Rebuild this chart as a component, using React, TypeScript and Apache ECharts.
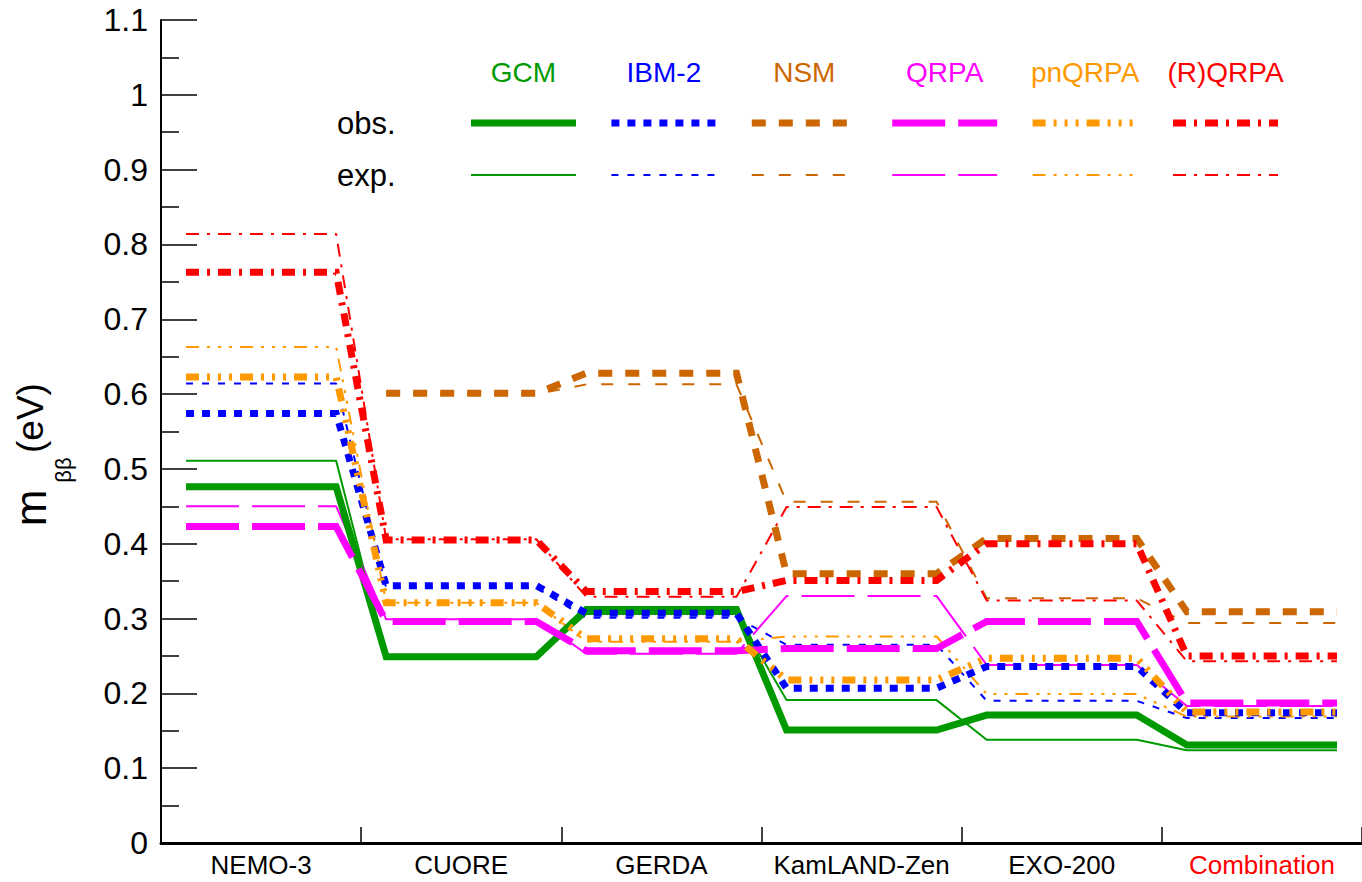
import React, { useEffect, useRef } from 'react';
import * as echarts from 'echarts';

const categories = ['NEMO-3', 'CUORE', 'GERDA', 'KamLAND-Zen', 'EXO-200', 'Combination'];

const gcmObs = [0.476, 0.249, 0.312, 0.151, 0.171, 0.131];
const gcmExp = [0.511, 0.249, 0.306, 0.191, 0.138, 0.124];
const ibmObs = [0.574, 0.344, 0.307, 0.207, 0.236, 0.174];
const ibmExp = [0.614, 0.341, 0.301, 0.265, 0.19, 0.167];
const nsmObs = [null, 0.601, 0.628, 0.36, 0.407, 0.309];
const nsmExp = [null, 0.6, 0.613, 0.456, 0.327, 0.294];
const qrpaObs = [0.423, 0.296, 0.257, 0.26, 0.296, 0.187];
const qrpaExp = [0.45, 0.299, 0.253, 0.33, 0.238, 0.183];
const pnqrpaObs = [0.623, 0.321, 0.273, 0.218, 0.247, 0.175];
const pnqrpaExp = [0.663, 0.321, 0.269, 0.276, 0.199, 0.169];
const rqrpaObs = [0.763, 0.405, 0.336, 0.351, 0.4, 0.25];
const rqrpaExp = [0.814, 0.406, 0.329, 0.449, 0.324, 0.243];

const models = ['GCM', 'IBM-2', 'NSM', 'QRPA', 'pnQRPA', '(R)QRPA'];
const colors = ['#009a00', '#0000ff', '#cc6600', '#ff00ff', '#ff9900', '#ff0000'];
const obsData = [gcmObs, ibmObs, nsmObs, qrpaObs, pnqrpaObs, rqrpaObs];
const expData = [gcmExp, ibmExp, nsmExp, qrpaExp, pnqrpaExp, rqrpaExp];
const obsDash: any[] = ['solid', [8, 8], [14, 13], [53, 13], [13, 8, 3, 8, 3, 8, 3, 8], [13, 8, 3, 8]];
const expDash: any[] = ['solid', [7, 9], [12, 15], [53, 13], [13, 8, 3, 8, 3, 8, 3, 8], [13, 8, 3, 8]];

const FLAT = 0.125;
const FONT = '"Liberation Sans", Arial, Helvetica, sans-serif';

function pts(vals: (number | null)[]) {
  const out: number[][] = [];
  vals.forEach((v, i) => {
    if (v == null) return;
    out.push([i + FLAT, v], [i + 1 - FLAT, v]);
  });
  return out;
}

export default function App() {
  const ref = useRef<HTMLDivElement>(null);
  useEffect(() => {
    if (!ref.current) return;
    const chart = echarts.init(ref.current, null, { renderer: 'svg' });
    const series: any[] = [];
    models.forEach((m, k) => {
      series.push({
        name: m + ' exp', type: 'line', xAxisIndex: 1, data: pts(expData[k]), symbol: 'none',
        lineStyle: { color: colors[k], width: 2, type: expDash[k], cap: 'butt' }, z: 2,
      });
    });
    models.forEach((m, k) => {
      series.push({
        name: m + ' obs', type: 'line', xAxisIndex: 1, data: pts(obsData[k]), symbol: 'none',
        lineStyle: { color: colors[k], width: 7, type: obsDash[k], cap: 'butt', join: 'miter' }, z: 3,
      });
    });

    const graphics: any[] = [];
    const lx0 = 471, lstep = 140.4, llen = 105;
    models.forEach((m, k) => {
      const x1 = lx0 + lstep * k;
      graphics.push({
        type: 'text', x: x1 + llen / 2, y: 72,
        style: { text: m, fill: colors[k], fontSize: 28, fontFamily: FONT, align: 'center', verticalAlign: 'middle' },
      });
      graphics.push({
        type: 'line', shape: { x1, y1: 123, x2: x1 + llen, y2: 123 },
        style: { stroke: colors[k], lineWidth: 7, lineDash: obsDash[k] === 'solid' ? null : obsDash[k] },
      });
      graphics.push({
        type: 'line', shape: { x1, y1: 175, x2: x1 + llen, y2: 175 },
        style: { stroke: colors[k], lineWidth: 2, lineDash: expDash[k] === 'solid' ? null : expDash[k] },
      });
    });
    graphics.push({
      type: 'text', x: 337, y: 123,
      style: { text: 'obs.', fill: '#000', fontSize: 31, fontFamily: FONT, align: 'left', verticalAlign: 'middle' },
    });
    graphics.push({
      type: 'text', x: 337, y: 175,
      style: { text: 'exp.', fill: '#000', fontSize: 31, fontFamily: FONT, align: 'left', verticalAlign: 'middle' },
    });
    graphics.push({
      type: 'text', x: 30, y: 508, rotation: Math.PI / 2,
      style: { text: 'm', fill: '#000', fontSize: 44, fontFamily: FONT, align: 'center', verticalAlign: 'middle' },
    });
    graphics.push({
      type: 'text', x: 63, y: 470, rotation: Math.PI / 2,
      style: { text: 'ββ', fill: '#000', fontSize: 22, fontFamily: FONT, align: 'center', verticalAlign: 'middle' },
    });
    graphics.push({
      type: 'text', x: 30, y: 418, rotation: Math.PI / 2,
      style: { text: '(eV)', fill: '#000', fontSize: 37, fontFamily: FONT, align: 'center', verticalAlign: 'middle' },
    });

    chart.setOption({
      animation: false,
      backgroundColor: '#fff',
      grid: { left: 161, right: 0, top: 20, bottom: 39, containLabel: false },
      xAxis: [
        {
          type: 'category', data: categories, boundaryGap: true,
          axisLine: { lineStyle: { color: '#000', width: 3 } },
          axisTick: { show: true, inside: true, interval: 0, length: 16, lineStyle: { color: '#000', width: 1.5 } },
          axisLabel: {
            interval: 0, hideOverlap: false,
            fontSize: 26, fontFamily: FONT, color: '#000', margin: 9,
            formatter: (v: string) => (v === 'Combination' ? '{r|' + v + '}' : v),
            rich: { r: { color: '#ff0000', fontSize: 26, fontFamily: FONT } },
          },
          splitLine: { show: false },
        },
        { type: 'value', min: 0, max: 6, show: false },
      ],
      yAxis: {
        type: 'value', min: 0, max: 1.1, interval: 0.1,
        axisLine: { show: true, lineStyle: { color: '#000', width: 2 } },
        axisTick: { show: true, inside: true, length: 36, lineStyle: { color: '#000', width: 1.5 } },
        minorTick: { show: true, splitNumber: 2, length: 18, lineStyle: { color: '#000', width: 1.5 } },
        axisLabel: { fontSize: 32, fontFamily: FONT, color: '#000', margin: 13 },
        splitLine: { show: false },
      },
      graphic: graphics,
      series,
    });
    return () => chart.dispose();
  }, []);
  return <div ref={ref} style={{ position: 'fixed', left: 0, top: 0, width: 1362, height: 882 }} />;
}
